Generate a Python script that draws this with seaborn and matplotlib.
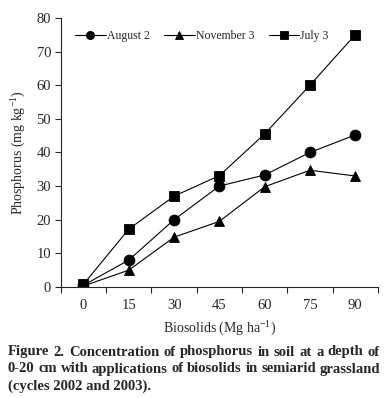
import matplotlib
matplotlib.use("Agg")
import matplotlib.pyplot as plt
import seaborn as sns
import pandas as pd
import numpy as np

doses = ["0", "15", "30", "45", "60", "75", "90"]
august2 = [0.5, 8, 20, 30, 33.3, 40, 45.2]
november3 = [0.3, 5, 14.8, 19.5, 29.8, 34.7, 33]
july3 = [0.8, 17.2, 27, 33.1, 45.5, 60, 75]
series = ["August 2", "November 3", "July 3"]

rows = []
for name, vals in zip(series, [august2, november3, july3]):
    for d, v in zip(doses, vals):
        rows.append({"dose": d, "P": v, "series": name})
df = pd.DataFrame(rows)

sns.set_style("ticks")
plt.rcParams["font.family"] = ["Liberation Serif", "DejaVu Serif"]
plt.rcParams["mathtext.fontset"] = "custom"
plt.rcParams["mathtext.rm"] = "Liberation Serif"
plt.rcParams["mathtext.it"] = "Liberation Serif:italic"

fig = plt.figure(figsize=(3.9, 3.98), dpi=100)
ax = fig.add_axes([0.156, 0.279, 0.813, 0.676])

sns.pointplot(data=df, x="dose", y="P", hue="series", order=doses,
              hue_order=series, palette=["black"] * 3,
              markers=["o", "^", "s"], linestyles=["-", "-", "-"],
              ax=ax, errorbar=None, dodge=False,
              markersize=7.8, linewidth=0.8)

ax.set_xlim(-0.5, 6.5)
ax.set_ylim(0, 80)
ax.set_yticks(np.arange(0, 81, 10))
ax.set_xticks(range(len(doses)))
ax.set_xticklabels(doses)
ax.set_xticks(np.arange(-0.5, 7, 1), minor=True)
ax.tick_params(axis="x", which="major", length=0, pad=9, labelsize=10.5)
ax.tick_params(axis="x", which="minor", length=4, width=0.8, direction="out")
ax.tick_params(axis="y", length=4, width=0.8, labelsize=10.5, pad=3)
for s in ["top", "right"]:
    ax.spines[s].set_visible(False)
for s in ["left", "bottom"]:
    ax.spines[s].set_linewidth(0.8)
ax.grid(False)

ax.set_xlabel("Biosolids (Mg ha$^{-1}$)", fontsize=10, labelpad=5)
ax.set_ylabel("Phosphorus (mg kg$^{-1}$)", fontsize=10, labelpad=6)

handles, labels = ax.get_legend_handles_labels()
ax.legend(handles, labels, loc="upper center", bbox_to_anchor=(0.445, 0.995),
          ncol=3, frameon=False, fontsize=8.5, handlelength=2.6,
          handletextpad=0.1, columnspacing=1.2, markerscale=0.75)

caption = ["Figure 2. Concentration of phosphorus in soil at a depth of",
           "0-20 cm with applications of biosolids in semiarid grassland",
           "(cycles 2002 and 2003)."]
x0, x1 = 8 / 390, 380 / 390
ys = [1 - 352 / 398, 1 - 369 / 398, 1 - 386 / 398]
fig.canvas.draw()
renderer = fig.canvas.get_renderer()
fs = 10.5
for i, line in enumerate(caption):
    if i < 2:
        words = line.split(" ")
        texts = [fig.text(0, ys[i], w, fontsize=fs, fontweight="bold",
                          ha="left", va="center") for w in words]
        widths = [t.get_window_extent(renderer).width / fig.bbox.width for t in texts]
        gap = (x1 - x0 - sum(widths)) / (len(words) - 1)
        x = x0
        for t, w in zip(texts, widths):
            t.set_x(x)
            x += w + gap
    else:
        fig.text(x0, ys[i], line, fontsize=fs, fontweight="bold",
                 ha="left", va="center")

fig.savefig("out.png", dpi=100)
